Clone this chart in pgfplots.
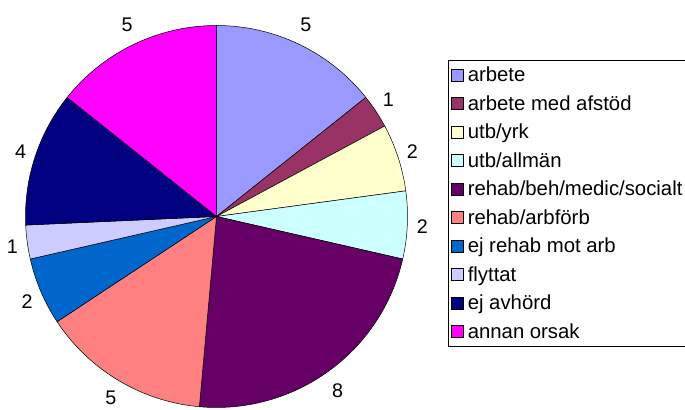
\documentclass[border=0pt]{standalone}
\usepackage{fontspec}
\setmainfont{Liberation Sans}
\usepackage{pgfplots}
\usepackage{pgfplotstable}
\pgfplotsset{compat=1.18}
\definecolor{c0}{HTML}{9999FF}
\definecolor{c1}{HTML}{993366}
\definecolor{c2}{HTML}{FFFFCC}
\definecolor{c3}{HTML}{CCFFFF}
\definecolor{c4}{HTML}{660066}
\definecolor{c5}{HTML}{FF8080}
\definecolor{c6}{HTML}{0066CC}
\definecolor{c7}{HTML}{CCCCFF}
\definecolor{c8}{HTML}{000080}
\definecolor{c9}{HTML}{FF00FF}

% number of persons per category, clockwise from 12 o'clock
\pgfplotstableread{
value
5
1
2
2
8
5
2
1
4
5
}\piedata

\begin{document}
\begin{tikzpicture}
\begin{axis}[
    width=685bp, height=410bp, scale only axis,
    xmin=0, xmax=685, ymin=0, ymax=410,
    hide axis, clip=false,
    legend image code/.code={\draw[#1, draw=black, line width=0.5bp] (0bp,-6bp) rectangle (12bp,6bp);},
    legend style={at={(axis cs:448,350)}, anchor=north west, draw=black, line width=0.6bp,
        font=\fontsize{20.4}{22}\selectfont, row sep=8.3bp, inner xsep=3bp, inner ysep=4.5bp,
        /tikz/every odd column/.append style={column sep=2bp}},
    legend cell align=left,
]
\xdef\cum{0}
\pgfplotsinvokeforeach{0,...,9}{
  \pgfplotstablegetelem{#1}{value}\of\piedata
  \edef\v{\pgfplotsretval}
  \pgfmathsetmacro{\a}{90-360*(\cum+\v)/35}
  \pgfmathsetmacro{\b}{90-360*\cum/35}
  \pgfmathsetmacro{\m}{(\a+\b)/2}
  \pgfmathsetmacro{\ly}{max(192.5+214*sin(\m),12.5)}
  \edef\temp{\noexpand\addplot[draw=black, line width=0.5bp, fill=c#1, domain=\a:\b, samples=80]
      ({216.5+191*cos(x)},{193.5+191*sin(x)}) -- (axis cs:216.5,193.5) -- cycle;
    \noexpand\node[inner sep=0pt, font=\noexpand\fontsize{19.8}{22}\noexpand\selectfont] at (axis cs:{216.5+206*cos(\m)},\ly) {\v};}
  \temp
  \pgfmathsetmacro{\c}{\cum+\v}
  \xdef\cum{\c}
}
\legend{arbete, arbete med afstöd, utb/yrk, utb/allmän, rehab/beh/medic/socialt,
  rehab/arbförb, ej rehab mot arb, flyttat, ej avhörd, annan orsak}
\end{axis}
\pgfresetboundingbox
\path[use as bounding box] (current axis.south west) rectangle (current axis.north east);
\end{tikzpicture}
\end{document}
